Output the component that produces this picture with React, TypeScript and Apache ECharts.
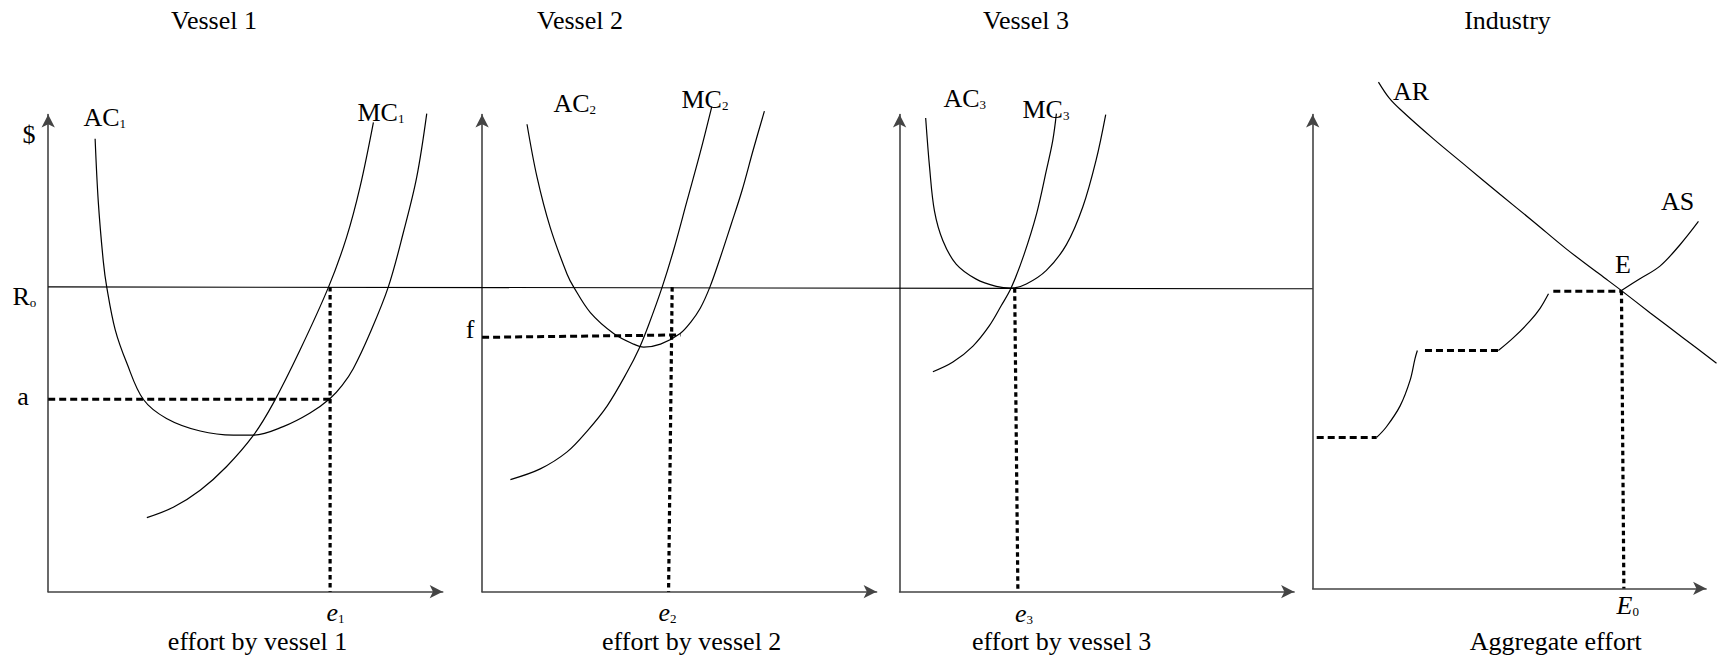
import React, { useEffect, useRef } from "react";
import * as echarts from "echarts";

// ---------- texts ----------
const panelTitles = ["Vessel 1", "Vessel 2", "Vessel 3", "Industry"];
const effortLabels = ["effort by vessel 1", "effort by vessel 2", "effort by vessel 3", "Aggregate effort"];

// ---------- data (x: effort units, y: $ units) ----------
// price line R0 (runs from the vessel-1 $ axis to the industry $ axis)
const r0Line = [[0, 62.8], [315.3, 62.4]];

// Vessel 1
const ac1 = [[11.7, 93.3], [12.5, 80.2], [13.75, 68.0], [14.6, 62.75], [16.7, 54.0], [19.6, 47.1], [23.7, 39.65], [29.5, 35.7], [37.9, 33.1], [46.2, 32.25], [51.2, 32.25], [58.6, 34.0], [65.3, 36.8], [70.3, 39.8], [73.3, 42.5], [76.1, 46.0], [80.2, 53.2], [84.8, 62.75], [88.6, 74.1], [91.9, 85.4], [94.4, 98.5]];
const mc1 = [[24.6, 15.25], [31.2, 17.4], [37.9, 20.9], [44.5, 25.8], [51.2, 32.25], [56.1, 38.8], [62.8, 49.8], [69.9, 62.75], [74.4, 73.0], [77.8, 83.5], [81.1, 96.7]];
const aLevel = [[0, 39.65], [70.3, 39.65]];
const e1Drop = [[70.3, 62.75], [70.3, 0]];

// Vessel 2
const ac2 = [[11.2, 96.3], [13.7, 85.4], [17.0, 75.0], [21.2, 65.4], [22.85, 62.75], [27.0, 57.5], [32.8, 53.2], [37.8, 51.0], [40.3, 50.4], [44.5, 51.0], [49.4, 53.2], [52.0, 55.5], [54.4, 58.4], [56.8, 62.75], [59.3, 68.6], [62.0, 75.4], [64.8, 82.6], [67.6, 91.0], [70.4, 99.0]];
const mc2 = [[7.06, 23.1], [14.5, 25.3], [21.2, 28.8], [26.2, 33.1], [31.2, 38.3], [36.2, 45.3], [39.1, 50.0], [41.5, 54.9], [44.9, 62.75], [47.8, 70.5], [51.1, 80.5], [54.4, 90.5], [57.3, 100.0]];
const fLevel = [[0, 52.4], [49.5, 52.9]];
const e2Drop = [[47.4, 62.75], [46.5, 0]];

// Vessel 3
const ac3 = [[6.5, 97.6], [7.5, 87.2], [8.7, 78.4], [10.8, 72.3], [14.1, 67.5], [19.1, 64.4], [24.1, 62.9], [27.8, 62.55], [31.6, 63.4], [36.6, 66.2], [41.6, 71.5], [45.7, 79.3], [49.0, 88.9], [51.4, 98.3]];
const mc3 = [[8.3, 45.3], [13.3, 47.3], [18.3, 50.6], [22.4, 54.8], [25.4, 59.0], [27.8, 62.55], [31.0, 69.4], [34.2, 78.0], [36.6, 86.8], [38.2, 93.0], [39.1, 98.5]];
const e3Drop = [[28.7, 62.5], [29.5, 0]];

// Industry
const arCurve = [[16.4, 105.0], [19.0, 101.8], [21.8, 99.4], [30.1, 93.3], [38.4, 87.6], [46.7, 81.9], [55.0, 76.3], [63.3, 70.6], [71.6, 65.4], [77.0, 62.05], [84.1, 57.5], [92.4, 52.3], [100.7, 47.1]];
const asCurve = [[77.0, 62.05], [81.6, 64.5], [86.6, 67.1], [91.6, 71.5], [96.2, 76.3]];
const stepDash1 = [[1.0, 31.8], [15.95, 31.8]];
const stepRise1 = [[15.95, 31.8], [18.4, 34.0], [21.8, 38.3], [24.3, 43.6], [25.5, 48.0], [26.1, 49.7]];
const stepDash2 = [[28.0, 49.7], [46.3, 49.7]];
const stepRise2 = [[46.3, 49.7], [50.0, 52.3], [54.2, 55.8], [56.7, 58.4], [58.8, 61.4]];
const stepDash3 = [[60.0, 61.9], [77.0, 61.9]];
const e0Drop = [[77.0, 62.0], [77.6, 0.7]];

const FONT = '"Liberation Serif", "Times New Roman", serif';

export default function App() {
  const ref = useRef<HTMLDivElement>(null);

  useEffect(() => {
    if (!ref.current) return;
    const chart = echarts.init(ref.current, null, { renderer: "svg" });

    const UX = 4.01; // px per effort unit
    const UY = 4.854; // px per $ unit
    const ARROW = [10, 13];
    const yTop = 114.5;
    // visible panels (axes with arrows)
    const panels = [
      { left: 48.2, right: 449.2 - ARROW[1] / 2, bottom: 591.7, yMin: 0, show: true },
      { left: 482.1, right: 883.1 - ARROW[1] / 2, bottom: 591.7, yMin: 0, show: true },
      { left: 899.6, right: 1300.6 - ARROW[1] / 2, bottom: 591.7, yMin: 0, show: true },
      { left: 1312.7, right: 1712.6 - ARROW[1] / 2, bottom: 588.4, yMin: 0.7, show: true },
      // hidden overlay: whole width, for the R0 price line
      { left: 48.2, right: 1312.7, bottom: 591.7, yMin: 0, show: false },
      // hidden overlay: industry panel extended to the page edge, for AR
      { left: 1312.7, right: 1718, bottom: 588.4, yMin: 0.7, show: false },
    ];

    const grid = panels.map((p) => ({
      left: p.left,
      top: yTop,
      width: p.right - p.left,
      height: p.bottom - yTop,
      outerBoundsMode: "none",
    }));
    const axisCommon = (show: boolean) => ({
      type: "value",
      show,
      axisLine: {
        show,
        onZero: false,
        symbol: ["none", "arrow"],
        symbolSize: ARROW,
        lineStyle: { color: "#444", width: 1.6 },
      },
      axisTick: { show: false },
      axisLabel: { show: false },
      splitLine: { show: false },
    });
    const xAxis = panels.map((p, i) => ({
      ...axisCommon(p.show),
      gridIndex: i,
      min: 0,
      max: (p.right - p.left) / UX,
    }));
    const yAxis = panels.map((p, i) => ({
      ...axisCommon(p.show),
      gridIndex: i,
      min: p.yMin,
      max: p.yMin + (p.bottom - yTop) / UY,
    }));

    const solid = (data: number[][], i: number, w = 1.2) => ({
      type: "line",
      xAxisIndex: i,
      yAxisIndex: i,
      data,
      smooth: 0.35,
      showSymbol: false,
      clip: false,
      silent: true,
      lineStyle: { color: "#000", width: w },
    });
    const dashed = (data: number[][], i: number) => ({
      type: "line",
      xAxisIndex: i,
      yAxisIndex: i,
      data,
      showSymbol: false,
      clip: false,
      silent: true,
      lineStyle: { color: "#000", width: 3, type: [7, 4] },
    });
    const dotted = (data: number[][], i: number) => ({
      type: "line",
      xAxisIndex: i,
      yAxisIndex: i,
      data,
      showSymbol: false,
      clip: false,
      silent: true,
      lineStyle: { color: "#000", width: 3.2, type: [4.5, 3.5] },
    });

    const series = [
      solid(r0Line, 4, 1.1),
      solid(ac1, 0),
      solid(mc1, 0),
      dashed(aLevel, 0),
      dotted(e1Drop, 0),
      solid(ac2, 1),
      solid(mc2, 1),
      dashed(fLevel, 1),
      dotted(e2Drop, 1),
      solid(ac3, 2),
      solid(mc3, 2),
      dotted(e3Drop, 2),
      solid(arCurve, 5),
      solid(asCurve, 3),
      dashed(stepDash1, 3),
      solid(stepRise1, 3),
      dashed(stepDash2, 3),
      solid(stepRise2, 3),
      dashed(stepDash3, 3),
      dotted(e0Drop, 3),
    ];

    const txt = (text: string, x: number, y: number, align = "center", size = 26) => ({
      type: "text",
      x,
      y,
      silent: true,
      style: {
        text,
        font: `${size}px ${FONT}`,
        fill: "#000",
        align,
        verticalAlign: "middle",
        textAlign: align,
        textVerticalAlign: "middle",
      },
    });
    const subTxt = (main: string, sub: string, x: number, y: number, italic = false) => ({
      type: "text",
      x,
      y,
      silent: true,
      style: {
        text: `{m|${main}}{s|${sub}}`,
        fill: "#000",
        align: "left",
        verticalAlign: "middle",
        textAlign: "left",
        textVerticalAlign: "middle",
        rich: {
          m: { fontSize: 26, fontFamily: FONT, fontStyle: italic ? "italic" : "normal", lineHeight: 30, verticalAlign: "bottom", fill: "#000" },
          s: { fontSize: 13, fontFamily: FONT, lineHeight: 11, verticalAlign: "bottom", fill: "#000" },
        },
      },
    });

    const titleX = [214, 580, 1026, 1507.5];
    const effortX = [257.5, 691.7, 1061.7, 1555.8];

    const graphic = [
      ...panelTitles.map((t, i) => txt(t, titleX[i], 20)),
      ...effortLabels.map((t, i) => txt(t, effortX[i], 641)),
      txt("$", 29, 134),
      subTxt("R", "o", 12.5, 294),
      txt("a", 23, 396),
      txt("f", 470, 329),
      subTxt("AC", "1", 83.5, 115),
      subTxt("MC", "1", 357.5, 110),
      subTxt("AC", "2", 553.5, 101),
      subTxt("MC", "2", 681.5, 97),
      subTxt("AC", "3", 943.5, 96),
      subTxt("MC", "3", 1022.5, 107),
      subTxt("e", "1", 326.5, 610, true),
      subTxt("e", "2", 658.5, 610, true),
      subTxt("e", "3", 1015, 611, true),
      subTxt("E", "0", 1616.5, 603, true),
      txt("AR", 1393, 91, "left"),
      txt("AS", 1661, 201, "left"),
      txt("E", 1615, 264, "left"),
    ];

    chart.setOption({
      animation: false,
      backgroundColor: "#fff",
      grid,
      xAxis,
      yAxis,
      series,
      graphic,
    });

    return () => chart.dispose();
  }, []);

  return (
    <div
      ref={ref}
      style={{ position: "absolute", left: 0, top: 0, width: 1718, height: 662, background: "#fff" }}
    />
  );
}
